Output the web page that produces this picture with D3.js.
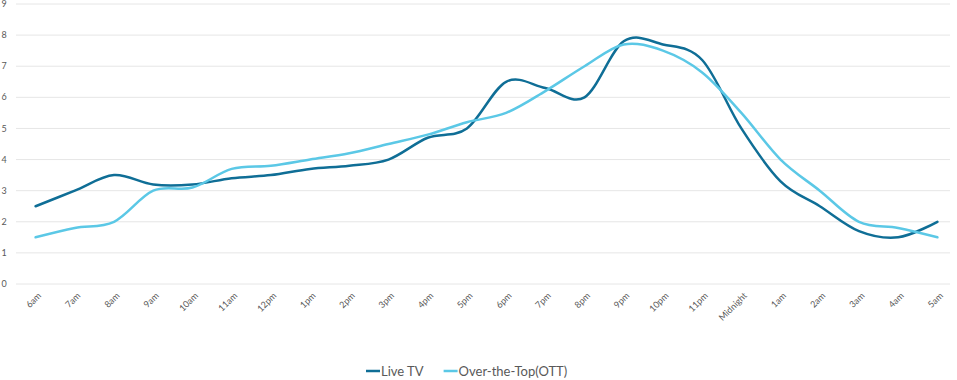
<!DOCTYPE html>
<html><head><meta charset="utf-8">
<script src="https://cdn.jsdelivr.net/npm/d3@7/dist/d3.min.js"></script>
<style>body{margin:0;background:#fff;}svg{display:block;font-family:Lato,"Open Sans",sans-serif;}</style>
</head><body><svg id="c" width="957" height="380"></svg>
<script>
const categories = ["6am","7am","8am","9am","10am","11am","12pm","1pm","2pm","3pm","4pm","5pm","6pm","7pm","8pm","9pm","10pm","11pm","Midnight","1am","2am","3am","4am","5am"];
const liveTV = [2.5,3.0,3.5,3.2,3.2,3.4,3.5,3.7,3.8,4.0,4.7,5.0,6.5,6.3,6.0,7.8,7.7,7.2,5.0,3.3,2.5,1.7,1.5,2.0];
const ott = [1.5,1.8,2.0,3.0,3.1,3.7,3.8,4.0,4.2,4.5,4.8,5.2,5.5,6.2,7.0,7.7,7.5,6.8,5.5,4.0,3.0,2.0,1.8,1.5];
const yTicks = [0,1,2,3,4,5,6,7,8,9];
const seriesNames = ["Live TV","Over-the-Top(OTT)"];
const colors = ["#0f6e96","#5bc8e6"];

const svg = d3.select("#c");
const x = d3.scaleBand().domain(categories).range([16, 957]);
const y = d3.scaleLinear().domain([0, 9]).range([284, 4]);

// grid
svg.append("g").selectAll("line").data(yTicks).join("line")
  .attr("x1", 16).attr("x2", 950)
  .attr("y1", d => y(d)).attr("y2", d => y(d))
  .attr("stroke", "#e6e6e6").attr("stroke-width", 1);
svg.append("g").selectAll("text").data(yTicks).join("text")
  .attr("x", 4).attr("y", d => y(d)).attr("dy", "0.35em")
  .attr("text-anchor", "middle")
  .attr("font-size", 9).attr("fill", "#595959").text(d => d);

// x labels
svg.append("g").selectAll("text").data(categories).join("text")
  .attr("transform", d => `translate(${x(d) + x.bandwidth()/2 + 4},${294}) rotate(-45)`)
  .attr("text-anchor", "end").attr("dy", "0.35em")
  .attr("font-size", 9).attr("fill", "#595959").text(d => d);

const line = d3.line()
  .x((d, i) => x(categories[i]) + x.bandwidth()/2)
  .y(d => y(d))
  .curve(d3.curveCardinal.tension(0));

[liveTV, ott].forEach((s, k) => {
  svg.append("path").datum(s).attr("d", line)
    .attr("fill", "none").attr("stroke", colors[k])
    .attr("stroke-width", 2.5).attr("stroke-linecap", "round").attr("stroke-linejoin", "round");
});

// legend
const legend = svg.append("g");
let lx = 366;
seriesNames.forEach((n, k) => {
  legend.append("line").attr("x1", lx).attr("x2", lx + 14).attr("y1", 371).attr("y2", 371)
    .attr("stroke", colors[k]).attr("stroke-width", 2.5);
  const t = legend.append("text").attr("x", lx + 15).attr("y", 371).attr("dy", "0.35em")
    .attr("font-size", 13).attr("fill", "#595959").text(n);
  lx += 15 + t.node().getComputedTextLength() + 20;
});
</script></body></html>
